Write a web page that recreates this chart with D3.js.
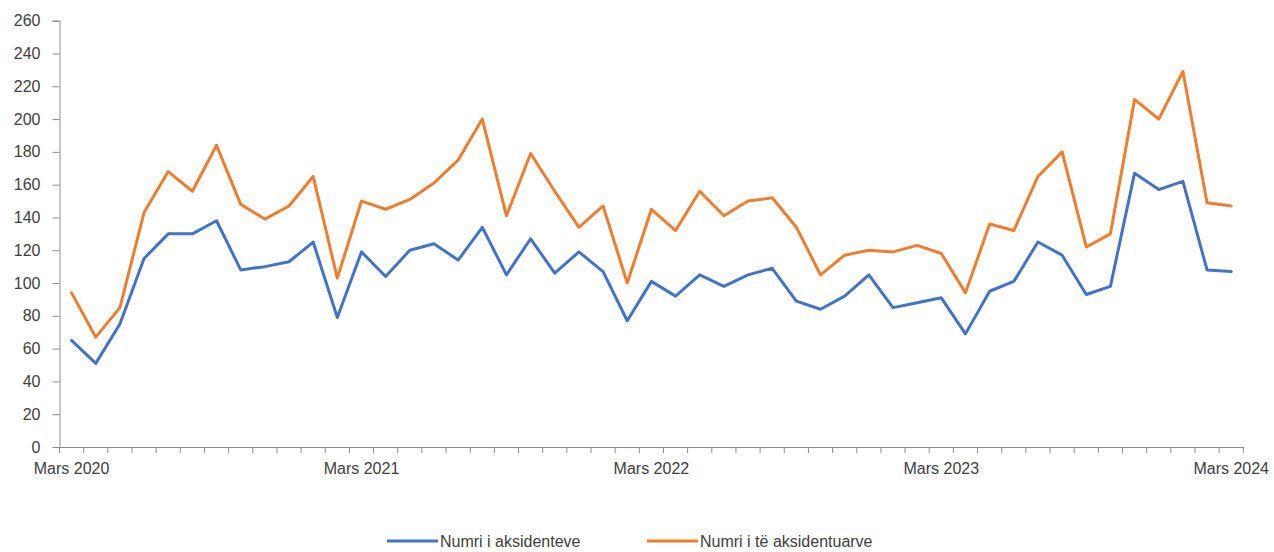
<!DOCTYPE html>
<html>
<head>
<meta charset="utf-8">
<script src="https://cdn.jsdelivr.net/npm/d3@7"></script>
<style>
  body { margin: 0; background: #fff; }
  svg { display: block; font-family: "Liberation Sans", Arial, sans-serif; }
</style>
</head>
<body>
<div id="chart"></div>
<script>
// Monthly data, Mars 2020 - Mars 2024
const monthNames = ['Mars', 'Prill', 'Maj', 'Qershor', 'Korrik', 'Gusht', 'Shtator', 'Tetor', 'Nëntor', 'Dhjetor', 'Janar', 'Shkurt'];
const years = [2020, 2021, 2022, 2023, 2024];

const accidents = [65, 51, 75, 115, 130, 130, 138, 108, 110, 113, 125, 79,
  119, 104, 120, 124, 114, 134, 105, 127, 106, 119, 107, 77,
  101, 92, 105, 98, 105, 109, 89, 84, 92, 105, 85, 88,
  91, 69, 95, 101, 125, 117, 93, 98, 167, 157, 162, 108,
  107];

const injured = [94, 67, 85, 143, 168, 156, 184, 148, 139, 147, 165, 103,
  150, 145, 151, 161, 175, 200, 141, 179, 156, 134, 147, 100,
  145, 132, 156, 141, 150, 152, 134, 105, 117, 120, 119, 123,
  118, 94, 136, 132, 165, 180, 122, 130, 212, 200, 229, 149,
  147];

const tickLabels = ['Mars 2020', 'Mars 2021', 'Mars 2022', 'Mars 2023', 'Mars 2024'];
const yTicks = [0, 20, 40, 60, 80, 100, 120, 140, 160, 180, 200, 220, 240, 260];

const seriesNames = ['Numri i aksidenteve', 'Numri i të aksidentuarve'];
const colors = ['#4472C4', '#ED7D31'];

// build month categories
const categories = [];
years.forEach(yr0 => {
  monthNames.forEach((m, i) => {
    const yr = i >= 10 ? yr0 + 1 : yr0;
    if (categories.length < accidents.length) categories.push(m + ' ' + yr);
  });
});

const width = 1274, height = 552;
const plotLeft = 59.5, plotRight = 1243.3, plotTop = 20.7, plotBottom = 447;

const svg = d3.select('#chart').append('svg')
  .attr('width', width)
  .attr('height', height);

const x = d3.scaleBand()
  .domain(categories)
  .range([plotLeft, plotRight])
  .padding(0);

const y = d3.scaleLinear()
  .domain([0, 260])
  .range([plotBottom, plotTop]);

// y axis
const yAxis = svg.append('g')
  .attr('transform', `translate(${plotLeft},0)`)
  .call(d3.axisLeft(y).tickValues(yTicks).tickSize(7).tickPadding(12));
yAxis.select('.domain').attr('stroke', '#8c8c8c');
yAxis.selectAll('.tick line').attr('stroke', '#8c8c8c');
yAxis.selectAll('text').attr('font-size', 16).attr('fill', '#404040')
  .attr('font-family', '"Liberation Sans", Arial, sans-serif');

// x axis: tick marks on band edges, labels at yearly months
const xAxis = svg.append('g')
  .attr('transform', `translate(0,${plotBottom})`)
  .call(d3.axisBottom(x)
    .tickValues(categories.filter(c => tickLabels.includes(c)))
    .tickSize(0)
    .tickPadding(16));
xAxis.select('.domain').attr('stroke', '#8c8c8c');
xAxis.selectAll('text').attr('font-size', 16).attr('fill', '#404040')
  .attr('font-family', '"Liberation Sans", Arial, sans-serif');

const edges = categories.map(c => x(c)).concat([x(categories[categories.length - 1]) + x.bandwidth()]);
svg.append('g')
  .selectAll('line')
  .data(edges)
  .enter()
  .append('line')
  .attr('x1', d => d)
  .attr('x2', d => d)
  .attr('y1', plotBottom)
  .attr('y2', plotBottom + 6)
  .attr('stroke', '#8c8c8c');

// lines
const line = d3.line()
  .x((d, i) => x(categories[i]) + x.bandwidth() / 2)
  .y(d => y(d));

[accidents, injured].forEach((s, i) => {
  svg.append('path')
    .datum(s)
    .attr('fill', 'none')
    .attr('stroke', colors[i])
    .attr('stroke-width', 3)
    .attr('stroke-linejoin', 'round')
    .attr('stroke-linecap', 'round')
    .attr('d', line);
});

// legend
const legendX = [387, 647];
const legend = svg.append('g').attr('class', 'legend');
seriesNames.forEach((name, i) => {
  const g = legend.append('g').attr('transform', `translate(${legendX[i]},541)`);
  g.append('line')
    .attr('x1', 0).attr('x2', 51)
    .attr('stroke', colors[i])
    .attr('stroke-width', 3);
  g.append('text')
    .attr('x', 53)
    .attr('dy', '0.35em')
    .attr('font-size', 16)
    .attr('fill', '#404040')
    .text(name);
});
</script>
</body>
</html>
